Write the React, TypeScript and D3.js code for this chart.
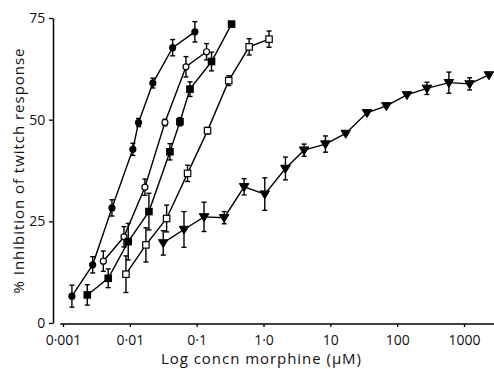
import React, { useRef, useEffect } from "react";
import * as d3 from "d3";

// doses in µM, responses in % inhibition, SEM
const dosesCircleFilled = [0.00136, 0.00278, 0.0054, 0.0111, 0.0135, 0.0221, 0.0437, 0.094];
const valuesCircleFilled = [6.6, 14.3, 28.3, 42.7, 49.3, 59, 67.7, 71.6];
const semCircleFilled = [2.7, 2, 2, 1.5, 1, 1.2, 2, 2.5];

const dosesCircleOpen = [0.00401, 0.00817, 0.0168, 0.0335, 0.0692, 0.1406];
const valuesCircleOpen = [15.2, 21.2, 33.4, 49.3, 63, 66.7];
const semCircleOpen = [2.5, 2.5, 2, 0.8, 2.5, 2];

const dosesSquareFilled = [0.00231, 0.00475, 0.00946, 0.0193, 0.0398, 0.0562, 0.0794, 0.167, 0.333];
const valuesSquareFilled = [6.9, 11, 20, 27.4, 42.1, 49.5, 57.5, 64.3, 73.5];
const semSquareFilled = [2.5, 2.3, 4.5, 4.5, 2, 1, 1.8, 2.3, 0.5];

const dosesSquareOpen = [0.00875, 0.0174, 0.0355, 0.0731, 0.1455, 0.302, 0.61, 1.21];
const valuesSquareOpen = [12, 19.2, 25.7, 36.8, 47.3, 59.6, 67.9, 69.8];
const semSquareOpen = [4.5, 4.2, 3.3, 2, 0.8, 1.2, 2, 2];

const dosesTriangle = [0.0316, 0.0646, 0.129, 0.258, 0.513, 1.045, 2.13, 4.05, 8.45, 17, 35.4, 68.9, 140, 279, 594, 1213, 2360];
const valuesTriangle = [19.7, 23, 26.1, 25.9, 33.5, 31.7, 38, 42.5, 44, 46.6, 51.7, 53.4, 56.1, 57.7, 59.1, 58.8, 61];
const semTriangle = [3, 4.4, 3.6, 1.5, 2, 4, 2.8, 1.5, 2, 0, 0, 0, 0, 1.5, 2.6, 1.5, 0];

const xTicks = [0.001, 0.01, 0.1, 1, 10, 100, 1000];
const xTickLabels = ["0·001", "0·01", "0·1", "1·0", "10", "100", "1000"];
const yTicks = [0, 25, 50, 75];

type Pt = { dose: number; value: number; sem: number };
const zip = (d: number[], v: number[], s: number[]): Pt[] =>
  d.map((dose, i) => ({ dose, value: v[i], sem: s[i] }));

const series = [
  { marker: "circle", filled: true, pts: zip(dosesCircleFilled, valuesCircleFilled, semCircleFilled) },
  { marker: "circle", filled: false, pts: zip(dosesCircleOpen, valuesCircleOpen, semCircleOpen) },
  { marker: "square", filled: true, pts: zip(dosesSquareFilled, valuesSquareFilled, semSquareFilled) },
  { marker: "square", filled: false, pts: zip(dosesSquareOpen, valuesSquareOpen, semSquareOpen) },
  { marker: "triangle", filled: true, pts: zip(dosesTriangle, valuesTriangle, semTriangle) },
];

export default function App() {
  const ref = useRef<SVGSVGElement>(null);

  useEffect(() => {
    if (!ref.current) return;
    const svg = d3.select(ref.current);
    svg.selectAll("*").remove();

    const font = "'Open Sans', 'DejaVu Sans', sans-serif";
    const x = d3.scaleLog().domain([0.001, 1000]).range([63, 464]);
    const y = d3.scaleLinear().domain([0, 75]).range([323, 18]);
    const axisY = 324;

    // x axis
    const gx = svg.append("g").attr("transform", `translate(0,${axisY})`);
    gx.call(
      d3.axisBottom<number>(x).tickValues(xTicks).tickSize(3).tickSizeOuter(0)
        .tickFormat((d, i) => xTickLabels[i])
    );
    gx.select(".domain").attr("d", `M${x(0.00091)},0H${x(2850)}`).attr("stroke-width", 1.5);
    gx.selectAll(".tick line").attr("stroke-width", 1.3);
    gx.selectAll("text").attr("font-family", font).attr("font-size", 14).attr("fill", "#111").attr("dy", "1.05em");

    // y axis
    const gy = svg.append("g").attr("transform", `translate(53,0)`);
    gy.call(d3.axisLeft<number>(y).tickValues(yTicks).tickSize(4).tickSizeOuter(0).tickFormat(d3.format("d")));
    gy.select(".domain").attr("stroke-width", 1.5);
    gy.selectAll(".tick line").attr("stroke-width", 1.3);
    gy.selectAll("text").attr("font-family", font).attr("font-size", 14).attr("fill", "#111").attr("dx", "-0.05em");

    svg.append("text")
      .attr("x", 261).attr("y", 364)
      .attr("text-anchor", "middle")
      .attr("font-family", font).attr("font-size", 15).attr("fill", "#111")
      .attr("textLength", 200).attr("lengthAdjust", "spacing")
      .text("Log concn morphine (μM)");

    svg.append("text")
      .attr("transform", `translate(24,171) rotate(-90)`)
      .attr("text-anchor", "middle")
      .attr("font-family", font).attr("font-size", 15).attr("fill", "#111")
      .attr("textLength", 245).attr("lengthAdjust", "spacing")
      .text("% Inhibition of twitch response");

    const line = d3.line<Pt>().x(d => x(d.dose)).y(d => y(d.value));

    series.forEach(s => {
      const g = svg.append("g");
      g.append("path").datum(s.pts)
        .attr("fill", "none").attr("stroke", "#000").attr("stroke-width", 1.4)
        .attr("d", line);

      // error bars
      s.pts.filter(p => p.sem > 0).forEach(p => {
        const cx = x(p.dose);
        const y1 = y(p.value + p.sem);
        const y2 = y(p.value - p.sem);
        g.append("line").attr("x1", cx).attr("x2", cx).attr("y1", y1).attr("y2", y2)
          .attr("stroke", "#000").attr("stroke-width", 1.4);
        [y1, y2].forEach(yy => {
          g.append("line").attr("x1", cx - 2.5).attr("x2", cx + 2.5).attr("y1", yy).attr("y2", yy)
            .attr("stroke", "#000").attr("stroke-width", 1.4);
        });
      });

      // markers
      s.pts.forEach(p => {
        const cx = x(p.dose);
        const cy = y(p.value);
        const fill = s.filled ? "#000" : "#fff";
        if (s.marker === "circle") {
          g.append("circle").attr("cx", cx).attr("cy", cy).attr("r", 3)
            .attr("fill", fill).attr("stroke", "#000").attr("stroke-width", 1.2);
        } else if (s.marker === "square") {
          g.append("rect").attr("x", cx - 3.2).attr("y", cy - 3.2).attr("width", 6.4).attr("height", 6.4)
            .attr("fill", fill).attr("stroke", "#000").attr("stroke-width", 1.2);
        } else {
          g.append("path")
            .attr("d", `M${cx - 4.8},${cy - 3.2}L${cx + 4.8},${cy - 3.2}L${cx},${cy + 4.8}Z`)
            .attr("fill", fill).attr("stroke", "#000").attr("stroke-width", 1);
        }
      });
    });
  }, []);

  return (
    <svg
      ref={ref}
      width={494}
      height={369}
      style={{ position: "absolute", left: 0, top: 0, background: "#fff" }}
    />
  );
}
